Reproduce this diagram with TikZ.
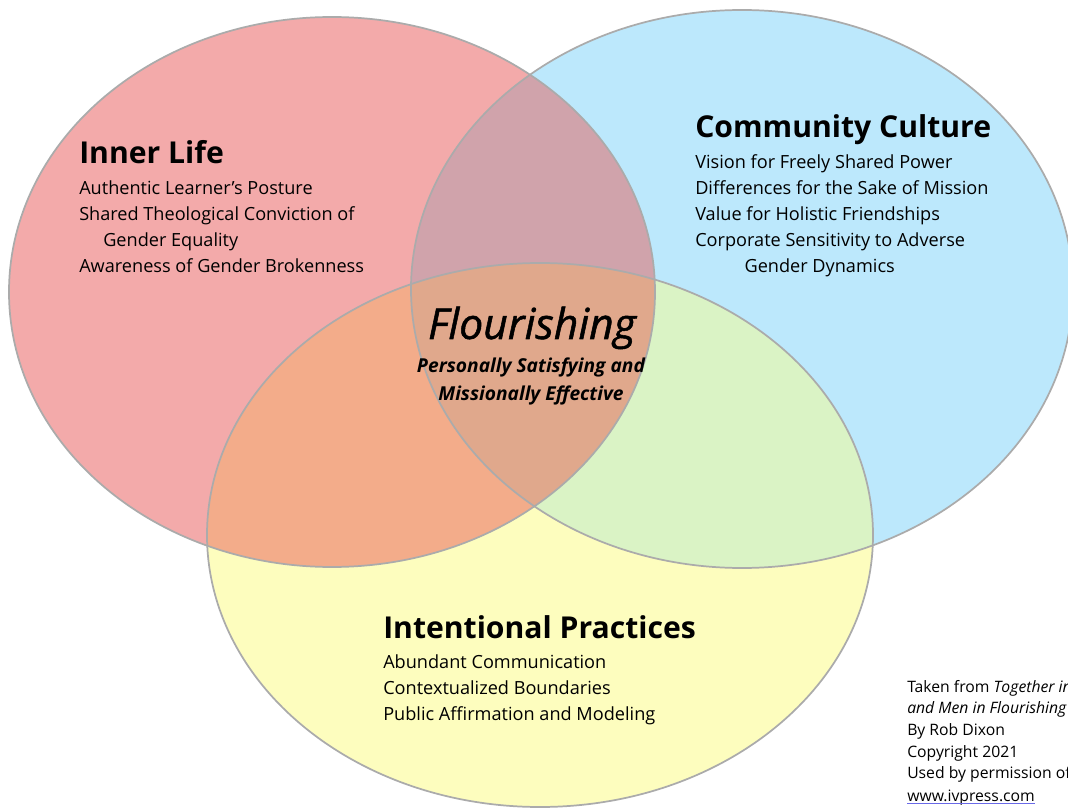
\documentclass[tikz,border=0pt]{standalone}
\usepackage{fontspec}
\setmainfont{Open Sans}
\usepackage{tikz}
\usetikzlibrary{positioning}
\definecolor{innerred}{HTML}{F3AAAA}
\definecolor{commblue}{HTML}{BCE8FC}
\definecolor{practyellow}{HTML}{FDFDBE}
\definecolor{redblue}{HTML}{D0A3AB}
\definecolor{redyellow}{HTML}{F3AC8A}
\definecolor{blueyellow}{HTML}{DAF3C5}
\definecolor{allthree}{HTML}{E0A88C}
\definecolor{rimgray}{HTML}{ABABAB}
\definecolor{linkblue}{HTML}{6A6AE8}
% the three sets
\newcommand{\innerE}{(332,292) ellipse [x radius=323, y radius=275]}
\newcommand{\commE}{(742,289) ellipse [x radius=331, y radius=279]}
\newcommand{\practE}{(540,535) ellipse [x radius=333, y radius=272]}
\tikzset {
  % headings of each set
  head/.style = {anchor=base west, inner sep=0pt, font=\fontsize{22.6}{26}\selectfont\bfseries},
  % bullet lines
  item/.style = {anchor=north west, inner sep=0pt, align=left, font=\fontsize{13.6}{19.5}\selectfont},
  % set outlines
  rim/.style = {draw=rimgray, line width=1.3pt},
  credit/.style = {anchor=north west, inner sep=0pt, align=left, font=\fontsize{11.8}{16.2}\selectfont},
}

\begin{document}
\begin{tikzpicture}[x=0.75pt, y=-0.75pt]
  \useasboundingbox (0,0) rectangle (1068,809);

  % plain fills
  \fill[innerred] \innerE;
  \fill[commblue] \commE;
  \fill[practyellow] \practE;
  % overlaps
  \begin{scope}
    \clip \commE;
    \fill[blueyellow] \practE;
  \end{scope}
  \begin{scope}
    \clip \innerE;
    \fill[redblue] \commE;
    \fill[redyellow] \practE;
    \clip \commE;
    \fill[allthree] \practE;
  \end{scope}
  % outlines
  \draw[rim] \innerE;
  \draw[rim] \commE;
  \draw[rim] \practE;

  % Inner Life
  \node[head] (inner) at (79,164) {Inner Life};
  \node[item] (inneritems) at (79,180) {Authentic Learner’s Posture\\
    Shared Theological Conviction of\\
    \hspace*{18pt}Gender Equality\\
    Awareness of Gender Brokenness};

  % Community Culture
  \node[head] (comm) at (695,138) {Community Culture};
  \node[item] (commitems) at (695,154) {Vision for Freely Shared Power\\
    Differences for the Sake of Mission\\
    Value for Holistic Friendships\\
    Corporate Sensitivity to Adverse\\
    \hspace*{37pt}Gender Dynamics};

  % Intentional Practices
  \node[head] (pract) at (383,638) {Intentional Practices};
  \node[item] (practitems) at (383,654) {Abundant Communication\\
    Contextualized Boundaries\\
    Public Affirmation and Modeling};

  % centre
  \node[inner sep=0pt, anchor=base, font=\fontsize{32}{34}\selectfont\itshape\addfontfeature{FakeBold=1.2}] (flour) at (532,339) {Flourishing};
  \node[inner sep=0pt, anchor=north, align=center,
        font=\fontsize{14.4}{21}\selectfont\bfseries\itshape] (flourtag) at (531,358)
        {Personally Satisfying and\\ Missionally Effective};

  % credit lines
  \node[credit] (credit) at (907,680) {Taken from \textit{Together in}\\
    \textit{and Men in Flourishing}\\
    By Rob Dixon\\
    Copyright 2021\\
    Used by permission of};
  \node[credit, anchor=base west] (web) at (907,801) {www.ivpress.com};
  \draw[linkblue, line width=0.8pt] ([yshift=-2pt]web.base west) -- ([yshift=-2pt]web.base east);
\end{tikzpicture}
\end{document}
